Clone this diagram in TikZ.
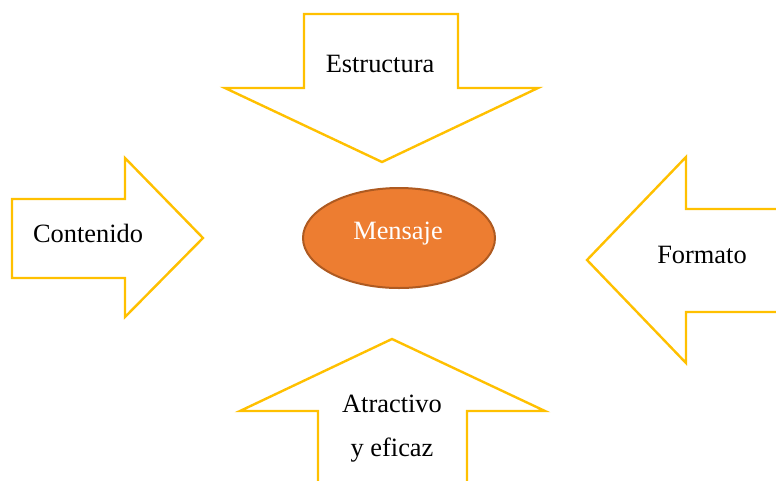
\documentclass[tikz,border=0pt]{standalone}
\usepackage{fontspec}
\setmainfont{Liberation Serif}
\usetikzlibrary{shapes.geometric}
\definecolor{arrowyellow}{HTML}{FFC000}
\definecolor{msgfill}{HTML}{ED7D31}
\definecolor{msgborder}{HTML}{AE5A21}
\begin{document}
\begin{tikzpicture}[x=1pt,y=-1pt,
  bigarrow/.style={draw=arrowyellow,line width=2.4pt,fill=white,line join=miter},
  lbl/.style={font=\fontsize{26.4}{30}\selectfont,text=black,inner sep=0pt},
  msg/.style={ellipse,draw=msgborder,line width=2pt,fill=msgfill,minimum width=192pt,minimum height=100pt,inner sep=0pt}]
\useasboundingbox (0,0) rectangle (776,480);
% top arrow (down)
\draw[bigarrow] (304,14) -- (458,14) -- (458,88) -- (538,88) -- (382,162) -- (225,88) -- (304,88) -- cycle;
% left arrow (right)
\draw[bigarrow] (12,199) -- (125,199) -- (125,158) -- (203,238) -- (125,317) -- (125,278) -- (12,278) -- cycle;
% right arrow (left)
\draw[bigarrow] (790,209) -- (686,209) -- (686,157) -- (587,260) -- (686,363) -- (686,312) -- (790,312);
% bottom arrow (up)
\draw[bigarrow] (318,490) -- (318,411) -- (240,411) -- (392,339) -- (545,411) -- (467,411) -- (467,490);
\node[msg] (mensaje) at (399,238) {};
\node[lbl,text=white] (mensajetext) at (398,234) {Mensaje};
\node[lbl] (estructura) at (380,64) {Estructura};
\node[lbl] (contenido) at (88,233) {Contenido};
\node[lbl] (formato) at (702,255) {Formato};
\node[lbl] (atractivo) at (392,404) {Atractivo};
\node[lbl] (eficaz) at (392,450) {y eficaz};
\end{tikzpicture}
\end{document}
